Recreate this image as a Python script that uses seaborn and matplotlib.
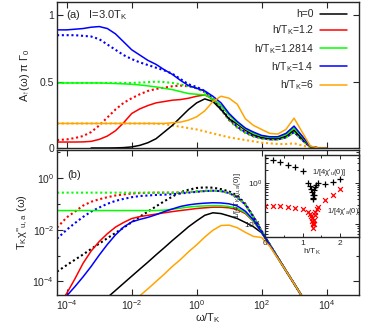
import numpy as np
import pandas as pd
import seaborn as sns
import matplotlib.pyplot as plt
from matplotlib.ticker import FixedLocator, NullFormatter, LogLocator

nan = np.nan

# log10(omega/T_K) grid shared by all curves
logw = [-4.3, -4.0, -3.75, -3.5, -3.25, -3.0, -2.75, -2.5, -2.25, -2.0, -1.75, -1.5,
        -1.25, -1.0, -0.75, -0.5, -0.25, 0.0, 0.25, 0.5, 0.75, 1.0, 1.25, 1.5,
        1.75, 2.0, 2.25, 2.5, 2.75, 3.0, 3.25, 3.5, 3.75, 4.0, 4.5, 5.0]

labels = ["h=0", "h/T$_K$=1.2", "h/T$_K$=1.2814", "h/T$_K$=1.4", "h/T$_K$=6"]
colors = ["black", "#ff0000", "#00ff00", "#0000ff", "#ffa500"]

# panel (a): spectral function, solid and dotted
A_h0 = [nan, nan, nan, nan, 0.0, 0.0, 0.0, 0.001, 0.003, 0.008, 0.02, 0.04,
        0.07, 0.12, 0.17, 0.23, 0.29, 0.34, 0.37, 0.35, 0.29, 0.22, 0.18, 0.135,
        0.10, 0.08, 0.072, 0.072, 0.09, 0.135, 0.07, 0.01, 0, 0, nan, nan]
A_h12 = [0.045, 0.045, 0.045, 0.046, 0.05, 0.065, 0.09, 0.13, 0.19, 0.26, 0.295, 0.32,
         0.34, 0.35, 0.36, 0.365, 0.375, 0.39, 0.40, 0.37, 0.32, 0.25, 0.19, 0.145,
         0.11, 0.09, 0.08, 0.08, 0.10, 0.15, 0.085, 0.01, 0, 0, nan, nan]
A_h12_d = [0.06, 0.065, 0.075, 0.09, 0.12, 0.17, 0.23, 0.29, 0.34, 0.375, 0.405, 0.43,
           0.445, 0.455, 0.465, 0.47, 0.465, 0.45, 0.42, 0.36, 0.29, 0.21, 0.155, 0.115,
           0.088, 0.072, 0.065, 0.065, 0.08, 0.12, 0.06, 0.008, 0, 0, nan, nan]
A_h128 = [0.49, 0.49, 0.49, 0.49, 0.49, 0.49, 0.488, 0.486, 0.483, 0.48, 0.475, 0.468,
          0.46, 0.45, 0.44, 0.425, 0.41, 0.405, 0.40, 0.37, 0.32, 0.25, 0.19, 0.145,
          0.11, 0.09, 0.08, 0.08, 0.10, 0.15, 0.085, 0.01, 0, 0, nan, nan]
A_h128_d = [0.49, 0.49, 0.49, 0.49, 0.49, 0.49, 0.49, 0.49, 0.49, 0.49, 0.493, 0.496,
            0.50, 0.497, 0.49, 0.48, 0.465, 0.45, 0.42, 0.36, 0.29, 0.21, 0.155, 0.115,
            0.088, 0.072, 0.065, 0.065, 0.08, 0.12, 0.06, 0.008, 0, 0, nan, nan]
A_h14 = [0.89, 0.89, 0.895, 0.90, 0.91, 0.915, 0.90, 0.86, 0.80, 0.74, 0.70, 0.66,
         0.63, 0.59, 0.555, 0.51, 0.47, 0.45, 0.43, 0.39, 0.34, 0.26, 0.20, 0.15,
         0.12, 0.095, 0.085, 0.085, 0.11, 0.165, 0.09, 0.012, 0, 0, nan, nan]
A_h14_d = [0.85, 0.85, 0.85, 0.845, 0.84, 0.82, 0.78, 0.74, 0.70, 0.67, 0.645, 0.625,
           0.605, 0.585, 0.56, 0.52, 0.48, 0.46, 0.43, 0.37, 0.30, 0.22, 0.16, 0.12,
           0.09, 0.075, 0.065, 0.065, 0.08, 0.12, 0.06, 0.008, 0, 0, nan, nan]
A_h6 = [0.185, 0.185, 0.185, 0.185, 0.185, 0.185, 0.185, 0.185, 0.185, 0.185, 0.185, 0.185,
        0.185, 0.185, 0.19, 0.195, 0.21, 0.235, 0.28, 0.35, 0.39, 0.375, 0.33, 0.22,
        0.17, 0.14, 0.11, 0.105, 0.14, 0.225, 0.12, 0.015, 0, 0, nan, nan]
A_h6_d = [0.185, 0.185, 0.185, 0.185, 0.185, 0.185, 0.185, 0.185, 0.185, 0.185, 0.185, 0.185,
          0.183, 0.18, 0.17, 0.16, 0.15, 0.14, 0.125, 0.11, 0.095, 0.08, 0.07, 0.06,
          0.05, 0.04, 0.035, 0.03, 0.03, 0.035, 0.02, 0.003, 0, 0, nan, nan]

# panel (b): dynamical susceptibilities
X_h0 = [nan, nan, nan, nan, nan, nan, 2.4e-5, 4.5e-5, 8.5e-5, 1.6e-4, 3e-4, 5.6e-4,
        1.07e-3, 2e-3, 3.8e-3, 7e-3, 1.3e-2, 2.2e-2, 3.6e-2, 4.5e-2, 4.2e-2, 3.4e-2, 2.7e-2, 1.9e-2,
        1.3e-2, 7.6e-3, 2.5e-3, 8.2e-4, 2.6e-4, 8.3e-5, 2.6e-5, 8.3e-6, 2.6e-6, 8.3e-7, nan, nan]
X_h0_d = [2.4e-4, 4.3e-4, 6.9e-4, 1.1e-3, 1.8e-3, 2.9e-3, 4.7e-3, 7.5e-3, 1.2e-2, 1.95e-2, 3.2e-2, 5e-2,
          8e-2, 0.125, 0.19, 0.28, 0.35, 0.41, 0.43, 0.42, 0.37, 0.30, 0.21, 0.10,
          0.032, 8.9e-3, 2.7e-3, 8.3e-4, 2.6e-4, 8.3e-5, 2.6e-5, 8.3e-6, 2.6e-6, 8.3e-7, nan, nan]
X_h12 = [1e-5, 3.5e-5, 1.26e-4, 5e-4, 1.5e-3, 3.5e-3, 7e-3, 1.26e-2, 1.9e-2, 2.7e-2, 3.2e-2, 3.6e-2,
         4e-2, 4.5e-2, 5e-2, 5.5e-2, 6e-2, 6.6e-2, 7e-2, 7.4e-2, 7.4e-2, 7e-2, 6e-2, 4.2e-2,
         2.1e-2, 7.8e-3, 2.6e-3, 8.3e-4, 2.6e-4, 8.3e-5, 2.6e-5, 8.3e-6, 2.6e-6, 8.3e-7, nan, nan]
X_h12_d = [0.012, 0.03, 0.05, 0.085, 0.12, 0.15, 0.18, 0.21, 0.23, 0.25, 0.26, 0.265,
           0.27, 0.27, 0.27, 0.275, 0.285, 0.30, 0.315, 0.32, 0.31, 0.26, 0.18, 0.093,
           0.031, 8.8e-3, 2.7e-3, 8.3e-4, 2.6e-4, 8.3e-5, 2.6e-5, 8.3e-6, 2.6e-6, 8.3e-7, nan, nan]
X_h128 = [0.055, 0.055, 0.055, 0.055, 0.055, 0.055, 0.055, 0.055, 0.055, 0.055, 0.055, 0.055,
          0.055, 0.057, 0.062, 0.068, 0.075, 0.08, 0.083, 0.085, 0.084, 0.079, 0.067, 0.046,
          0.022, 7.9e-3, 2.6e-3, 8.3e-4, 2.6e-4, 8.3e-5, 2.6e-5, 8.3e-6, 2.6e-6, 8.3e-7, nan, nan]
X_h128_d = [0.27, 0.27, 0.27, 0.27, 0.27, 0.27, 0.27, 0.27, 0.27, 0.27, 0.27, 0.27,
            0.27, 0.27, 0.27, 0.275, 0.285, 0.30, 0.315, 0.32, 0.31, 0.26, 0.18, 0.093,
            0.031, 8.8e-3, 2.7e-3, 8.3e-4, 2.6e-4, 8.3e-5, 2.6e-5, 8.3e-6, 2.6e-6, 8.3e-7, nan, nan]
X_h14 = [1e-5, 2.8e-5, 6.3e-5, 1.5e-4, 3.8e-4, 1.05e-3, 2.7e-3, 6.3e-3, 1.26e-2, 2e-2, 2.5e-2, 3e-2,
         3.8e-2, 5e-2, 6.3e-2, 7.9e-2, 9.1e-2, 0.10, 0.106, 0.11, 0.108, 0.10, 0.083, 0.052,
         0.024, 8e-3, 2.6e-3, 8.3e-4, 2.6e-4, 8.3e-5, 2.6e-5, 8.3e-6, 2.6e-6, 8.3e-7, nan, nan]
X_h14_d = [0.0045, 0.01, 0.018, 0.031, 0.05, 0.072, 0.10, 0.13, 0.155, 0.18, 0.20, 0.21,
           0.22, 0.225, 0.235, 0.25, 0.27, 0.29, 0.31, 0.32, 0.31, 0.26, 0.18, 0.093,
           0.031, 8.8e-3, 2.7e-3, 8.3e-4, 2.6e-4, 8.3e-5, 2.6e-5, 8.3e-6, 2.6e-6, 8.3e-7, nan, nan]
X_h6 = [nan, nan, nan, nan, nan, nan, nan, nan, nan, nan, 2.8e-5, 5.2e-5,
        1e-4, 1.9e-4, 3.8e-4, 7e-4, 1.4e-3, 2.6e-3, 5.2e-3, 9.5e-3, 1.45e-2, 1.5e-2, 1.2e-2, 7.9e-3,
        5.5e-3, 5e-3, 2.3e-3, 7.8e-4, 2.6e-4, 8.3e-5, 2.6e-5, 8.3e-6, 2.6e-6, 8.3e-7, nan, nan]

# inset: static susceptibilities vs field
h_u = [0, 0.2, 0.4, 0.6, 0.8, 1.0, 1.15, 1.2, 1.22, 1.25, 1.27, 1.28, 1.2814, 1.29,
       1.31, 1.33, 1.36, 1.4, 1.6, 1.8, 2.0]
inv_chi_u = [3.9, 3.5, 3.2, 2.7, 2.4, 1.86, 1.0, 0.85, 0.7, 0.6, 0.5, 0.42, 0.4, 0.5,
             0.65, 0.8, 0.9, 1.0, 0.95, 1.05, 1.2]
h_a = [0, 0.2, 0.4, 0.6, 0.8, 1.0, 1.15, 1.2, 1.22, 1.24, 1.26, 1.27, 1.28, 1.2814,
       1.29, 1.3, 1.32, 1.34, 1.37, 1.4, 1.6, 1.8, 2.0]
inv_chi_a = [0.27, 0.27, 0.27, 0.26, 0.25, 0.23, 0.2, 0.18, 0.16, 0.14, 0.12, 0.11, 0.1, 0.08,
             0.1, 0.13, 0.17, 0.2, 0.23, 0.26, 0.38, 0.52, 0.72]

sns.set_style("ticks")
plt.rcParams['font.family'] = ['Liberation Sans', 'DejaVu Sans']
plt.rcParams['mathtext.default'] = 'regular'
plt.rcParams['axes.linewidth'] = 1.0

omega = 10.0 ** np.array(logw)
dot = (0, (1, 1.3))

fig = plt.figure(figsize=(3.74, 3.27), dpi=100)
W, H = 374.0, 327.0
ax1 = fig.add_axes([57 / W, 1 - 148 / H, 302 / W, 146 / H])
ax2 = fig.add_axes([57 / W, 1 - 295 / H, 302 / W, 145 / H])

top_solid = [A_h0, A_h12, A_h128, A_h14, A_h6]
top_dot = [None, A_h12_d, A_h128_d, A_h14_d, A_h6_d]
for vals, c in zip(top_dot, colors):
    if vals is not None:
        sns.lineplot(x=omega, y=vals, ax=ax1, color=c, lw=1.5, linestyle=dot)
for vals, c, lab in zip(top_solid, colors, labels):
    sns.lineplot(x=omega, y=vals, ax=ax1, color=c, lw=1.1, label=lab)

bot_solid = [X_h0, X_h12, X_h128, X_h14, X_h6]
bot_dot = [X_h0_d, X_h12_d, X_h128_d, X_h14_d, None]
for vals, c in zip(bot_dot, colors):
    if vals is not None:
        sns.lineplot(x=omega, y=vals, ax=ax2, color=c, lw=1.5, linestyle=dot)
for vals, c in zip(bot_solid, colors):
    sns.lineplot(x=omega, y=vals, ax=ax2, color=c, lw=1.1)

for ax in (ax1, ax2):
    ax.set_xscale('log')
    ax.set_xlim(5e-5, 1e5)
    ax.xaxis.set_major_locator(FixedLocator([1e-4, 1e-2, 1e0, 1e2, 1e4]))
    ax.xaxis.set_minor_locator(FixedLocator([]))
    ax.tick_params(which='both', direction='in', top=True, right=True,
                   labelsize=7.5, length=4, width=0.8, pad=2)
    ax.tick_params(which='minor', length=2.5)

ax1.set_ylim(0, 1.1)
ax1.set_yticks([0, 0.5, 1])
ax1.set_yticklabels(['0', '0.5', '1'])
ax1.tick_params(axis='x', labelbottom=False)
ax1.set_xlabel('')
ax1.set_ylabel('A$_{↑}$(ω) π Γ$_0$', fontsize=8, labelpad=6)
ax1.text(0.03, 0.91, '(a)   I=3.0T$_K$', transform=ax1.transAxes, fontsize=8, va='center')
leg = ax1.legend(loc='upper right', bbox_to_anchor=(0.985, 1.0), frameon=False, markerfirst=False,
                 fontsize=7.5, handlelength=2.6, labelspacing=0.42, handletextpad=0.6,
                 borderaxespad=0.3)
for t in leg.get_texts():
    t.set_ha('right')

ax2.set_yscale('log')
ax2.set_ylim(3e-5, 12)
ax2.yaxis.set_major_locator(FixedLocator([1e-4, 1e-2, 1e0]))
ax2.yaxis.set_minor_locator(FixedLocator([1e-3, 1e-1, 1e1]))
ax2.yaxis.set_minor_formatter(NullFormatter())
ax2.set_xlabel('ω/T$_K$', fontsize=8, labelpad=0)
ax2.set_ylabel("T$_K$χ''$_{u,a}$ (ω)", fontsize=8, labelpad=2)
ax2.text(0.035, 0.83, '(b)', transform=ax2.transAxes, fontsize=8, va='center')

# inset
axin = fig.add_axes([265 / W, 1 - 237 / H, 94 / W, 82 / H])
sns.scatterplot(x=h_u, y=inv_chi_u, ax=axin, marker='+', color='black', s=18, linewidth=0.9)
sns.scatterplot(x=h_a, y=inv_chi_a, ax=axin, marker='x', color='#ff0000', s=12, linewidth=0.9)
axin.set_yscale('log')
axin.set_xlim(0, 2.5)
axin.set_ylim(0.05, 4.6)
axin.set_xticks([0, 1, 2])
axin.set_xticks([0.5, 1.5], minor=True)
axin.yaxis.set_major_locator(FixedLocator([0.1, 1.0]))
axin.yaxis.set_minor_locator(LogLocator(base=10, subs=np.arange(2, 10)))
axin.yaxis.set_minor_formatter(NullFormatter())
axin.tick_params(which='both', direction='in', top=True, right=True, labelsize=6,
                 length=3, width=0.7, pad=2)
axin.tick_params(which='minor', length=1.8)
axin.set_xlabel('h/T$_K$', fontsize=6, labelpad=0)
axin.set_ylabel('1/[4T$_K$χ$_{u,a}$(0)]', fontsize=5.5, labelpad=1)
axin.text(0.5, 0.79, "1/[4χ'$_u$(0)]", transform=axin.transAxes, fontsize=5.5, va='center')
axin.text(0.66, 0.305, "1/[4χ'$_a$(0)]", transform=axin.transAxes, fontsize=5.5, va='center')

fig.savefig('out.png', dpi=100)
